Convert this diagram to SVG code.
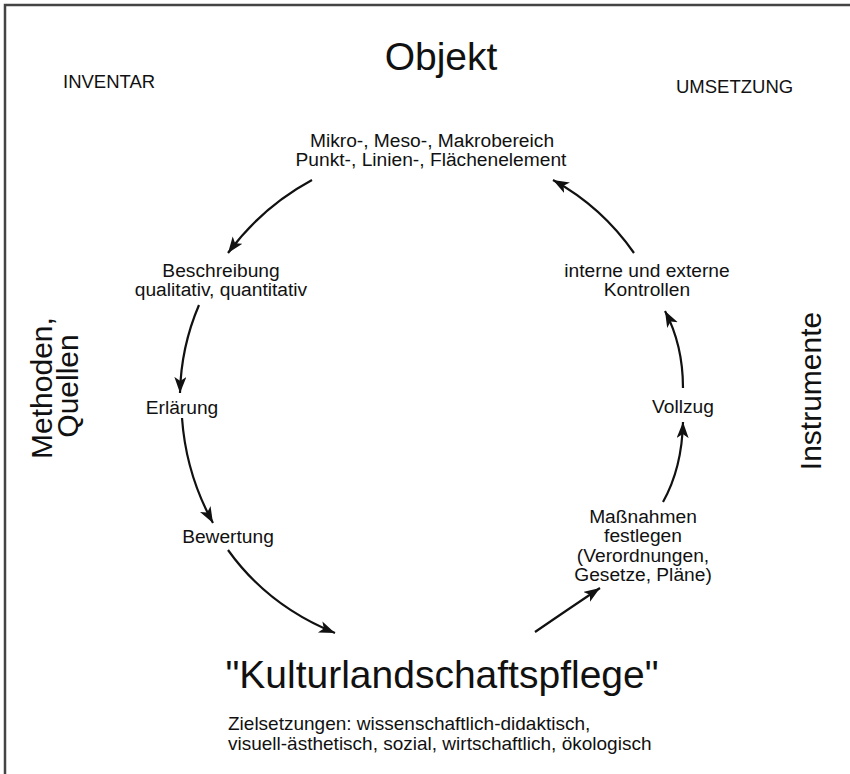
<svg xmlns="http://www.w3.org/2000/svg" width="850" height="774" viewBox="0 0 850 774">
<style>
text{font-family:"Liberation Sans",Arial,sans-serif;fill:#111}
.n{font-size:19.2px;text-anchor:middle}
.h{font-size:39px;text-anchor:middle}
.s{font-size:18.5px}
.z{font-size:19px}
.v{font-size:30px;text-anchor:middle}
.c{fill:none;stroke:#111;stroke-width:2.2}
</style>
<defs>
<marker id="ah" markerUnits="userSpaceOnUse" markerWidth="18" markerHeight="14" refX="16" refY="6" orient="auto">
<path d="M0,0 L16,6 L0,12 L4,6 Z" fill="#111"/>
</marker>
</defs>
<rect width="850" height="774" fill="#fff"/>
<path d="M5,774 V5 H850" fill="none" stroke="#444" stroke-width="2.5"/>
<g id="objekt"><text class="h" x="441" y="70">Objekt</text></g>
<g id="inventar"><text class="s" x="63" y="88">INVENTAR</text></g>
<g id="umsetzung"><text class="s" x="676" y="93">UMSETZUNG</text></g>
<g id="bereich"><text class="n" x="432" y="147">Mikro-, Meso-, Makrobereich</text><text class="n" x="431" y="166">Punkt-, Linien-, Flächenelement</text></g>
<g id="beschreibung"><text class="n" x="221" y="277">Beschreibung</text><text class="n" x="221" y="296">qualitativ, quantitativ</text></g>
<g id="erklaerung"><text class="n" x="182" y="414">Erlärung</text></g>
<g id="bewertung"><text class="n" x="228" y="543">Bewertung</text></g>
<g id="kontrollen"><text class="n" x="647" y="277">interne und externe</text><text class="n" x="647" y="296">Kontrollen</text></g>
<g id="vollzug"><text class="n" x="683" y="413">Vollzug</text></g>
<g id="massnahmen"><text class="n" x="643" y="523">Maßnahmen</text><text class="n" x="643" y="542">festlegen</text><text class="n" x="643" y="562">(Verordnungen,</text><text class="n" x="643" y="581">Gesetze, Pläne)</text></g>
<g id="kultur"><text class="h" x="442" y="688">"Kulturlandschaftspflege"</text></g>
<g id="ziel"><text class="z" x="228" y="730">Zielsetzungen: wissenschaftlich-didaktisch,</text><text class="z" x="228" y="750">visuell-ästhetisch, sozial, wirtschaftlich, ökologisch</text></g>
<g id="methoden"><text class="v" transform="translate(52,388) rotate(-90)">Methoden,</text><text class="v" transform="translate(78,386) rotate(-90)">Quellen</text></g>
<g id="instrumente"><text class="v" transform="translate(821,391) rotate(-90)">Instrumente</text></g>
<g id="connectors">
<path class="c" marker-end="url(#ah)" d="M312,180 Q262,207 228,253"/>
<path class="c" marker-end="url(#ah)" d="M199,305 Q181,347 180,393"/>
<path class="c" marker-end="url(#ah)" d="M182,418 Q186,474 213,523"/>
<path class="c" marker-end="url(#ah)" d="M228,550 Q268,606 335,633"/>
<path class="c" marker-end="url(#ah)" d="M535,632 Q570,608 600,588"/>
<path class="c" marker-end="url(#ah)" d="M663,502 Q682,468 683,422"/>
<path class="c" marker-end="url(#ah)" d="M683,388 Q683,345 665,311"/>
<path class="c" marker-end="url(#ah)" d="M634,253 Q602,207 553,180"/>
</g>
</svg>
